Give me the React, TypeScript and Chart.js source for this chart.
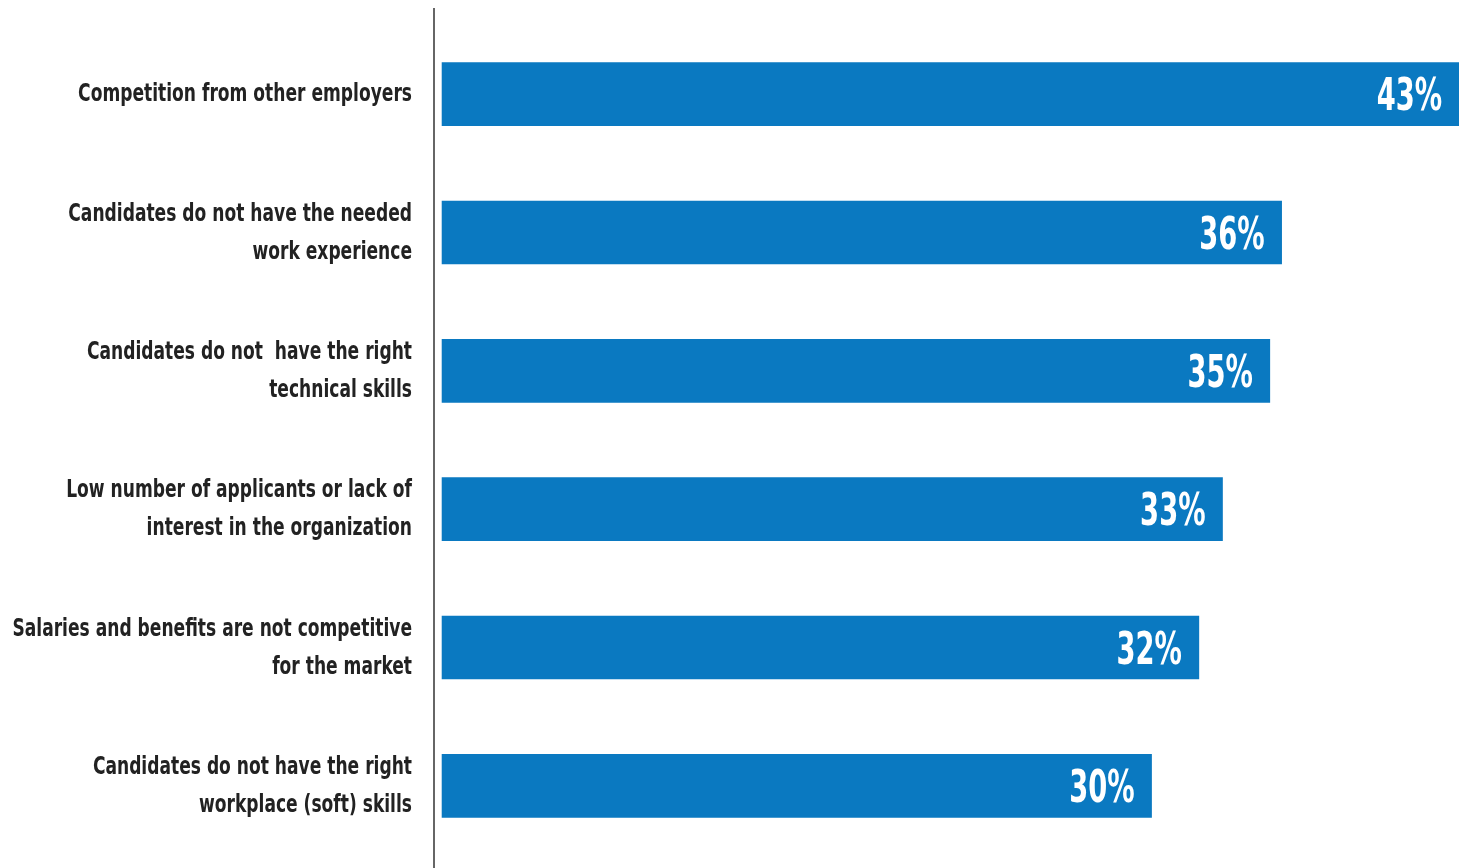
import React, { useEffect, useRef } from "react";
import { Chart, registerables } from "chart.js";

Chart.register(...registerables);

const categories: string[][] = [
  ["Competition from other employers"],
  ["Candidates do not have the needed", "work experience"],
  ["Candidates do not  have the right", "technical skills"],
  ["Low number of applicants or lack of", "interest in the organization"],
  ["Salaries and benefits are not competitive", "for the market"],
  ["Candidates do not have the right", "workplace (soft) skills"],
];
const values: number[] = [43, 35.5, 35, 33, 32, 30];
const valueLabels: string[] = ["43%", "36%", "35%", "33%", "32%", "30%"];

const FONT = "'DejaVu Sans Condensed', 'Liberation Sans Narrow', sans-serif";

const valueLabelPlugin = {
  id: "valueLabels",
  afterDatasetsDraw(chart: any) {
    const ctx = chart.ctx;
    const meta = chart.getDatasetMeta(0);
    const sx = 0.69;
    ctx.save();
    ctx.fillStyle = "#ffffff";
    ctx.font = `bold 44px ${FONT}`;
    ctx.textAlign = "right";
    ctx.textBaseline = "alphabetic";
    meta.data.forEach((bar: any, i: number) => {
      ctx.save();
      ctx.translate(bar.x - 17, bar.y + 16);
      ctx.scale(sx, 1);
      ctx.fillText(valueLabels[i], 0, 0);
      ctx.restore();
    });
    ctx.restore();
  },
};

const categoryLabelPlugin = {
  id: "categoryLabels",
  afterDraw(chart: any) {
    const ctx = chart.ctx;
    const yScale = chart.scales.y;
    const x = chart.chartArea.left - 22;
    const lineHeight = 38;
    const sx = 0.76;
    ctx.save();
    ctx.fillStyle = "#222222";
    ctx.font = `bold 25px ${FONT}`;
    ctx.textAlign = "right";
    ctx.textBaseline = "alphabetic";
    (chart.data.labels as string[][]).forEach((lines, i) => {
      const cy = yScale.getPixelForValue(i);
      const first = cy + 7 - ((lines.length - 1) * lineHeight) / 2;
      lines.forEach((line, j) => {
        ctx.save();
        ctx.translate(x, first + j * lineHeight);
        ctx.scale(sx, 1);
        ctx.fillText(line, 0, 0);
        ctx.restore();
      });
    });
    ctx.restore();
  },
};

const axisLinePlugin = {
  id: "axisLine",
  afterDraw(chart: any) {
    const ctx = chart.ctx;
    const x = chart.chartArea.left;
    ctx.save();
    ctx.strokeStyle = "#666666";
    ctx.lineWidth = 2;
    ctx.beginPath();
    ctx.moveTo(x, 8);
    ctx.lineTo(x, chart.height);
    ctx.stroke();
    ctx.restore();
  },
};

export default function App() {
  const canvasRef = useRef<HTMLCanvasElement>(null);

  useEffect(() => {
    document.body.style.margin = "0";
    const chart = new Chart(canvasRef.current!, {
      type: "bar",
      data: {
        labels: categories,
        datasets: [
          {
            data: values,
            backgroundColor: "#0a79c1",
            barThickness: 63,
            borderWidth: 0,
          },
        ],
      },
      options: {
        indexAxis: "y",
        animation: false,
        responsive: false,
        maintainAspectRatio: false,
        layout: { padding: { top: 25, bottom: 13, right: 7, left: 0 } },
        plugins: {
          legend: { display: false },
          tooltip: { enabled: false },
        },
        scales: {
          x: {
            display: false,
            min: -0.34,
            max: 43,
          },
          y: {
            grid: { display: false, drawTicks: false },
            border: { display: false },
            ticks: { display: false },
            afterFit(scale: any) {
              scale.width = 434;
              scale.paddingTop = 0;
              scale.paddingBottom = 0;
            },
          },
        },
      },
      plugins: [valueLabelPlugin, categoryLabelPlugin, axisLinePlugin],
    });
    return () => chart.destroy();
  }, []);

  return (
    <div style={{ position: "absolute", left: 0, top: 0, width: 1466, height: 868, background: "#fff" }}>
      <canvas ref={canvasRef} width={1466} height={868} style={{ display: "block" }} />
    </div>
  );
}
